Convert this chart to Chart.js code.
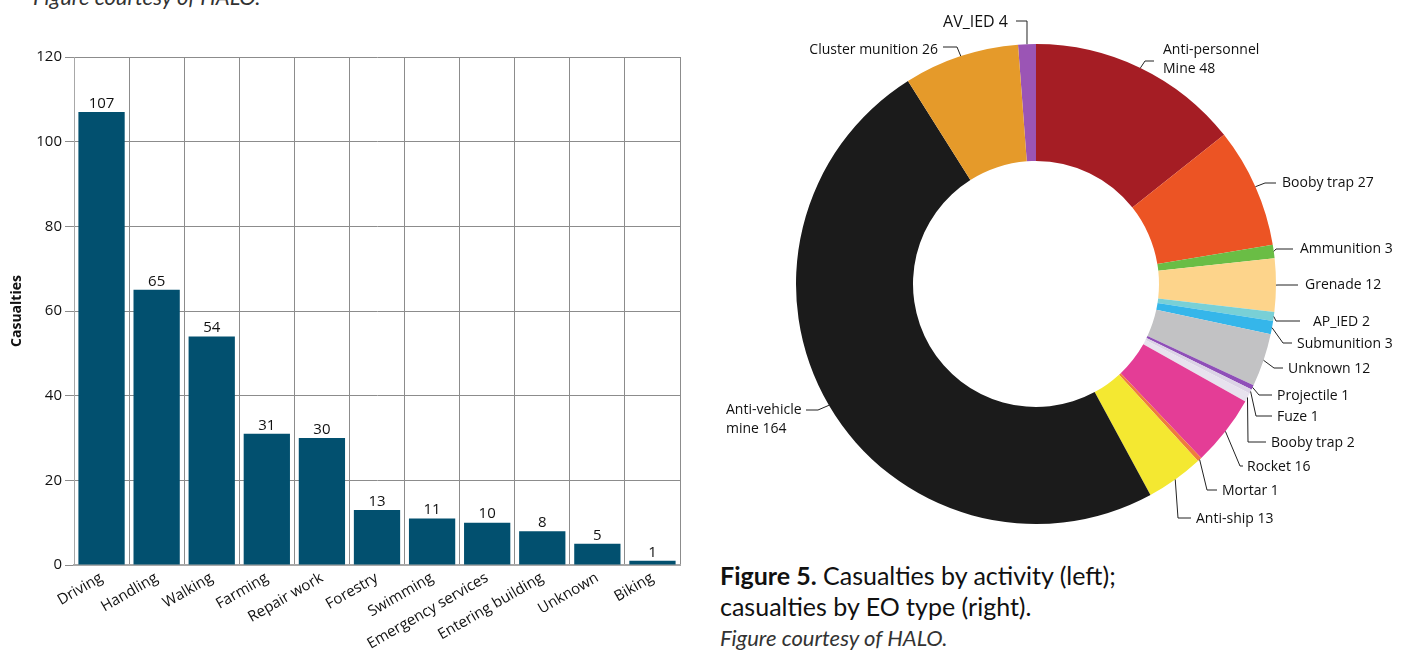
<!DOCTYPE html>
<html>
<head>
<meta charset="utf-8">
<script src="https://cdn.jsdelivr.net/npm/chart.js@4.4.1/dist/chart.umd.min.js"></script>
<style>
  body { margin: 0; background: #fff; width: 1405px; height: 652px; overflow: hidden; position: relative; font-family: Lato, "Open Sans", sans-serif; }
  #bar-wrap { position: absolute; left: 0; top: 0; width: 700px; height: 652px; }
  #pie-wrap { position: absolute; left: 700px; top: 0; width: 705px; height: 545px; }
  .credit { position: absolute; font-style: italic; font-size: 22px; color: #333; white-space: nowrap; }
  #caption { position: absolute; left: 720px; top: 560px; font-size: 25px; line-height: 31px; color: #111; white-space: nowrap; }
</style>
</head>
<body>
<div class="credit" style="left:33px; top:-17px;">Figure courtesy of HALO.</div>
<div id="bar-wrap"><canvas id="bar-chart" width="700" height="652"></canvas></div>
<div id="pie-wrap"><canvas id="pie-chart" width="705" height="545"></canvas></div>
<div id="caption"><b>Figure 5.</b> Casualties by activity (left);<br>casualties by EO type (right).</div>
<div class="credit" style="left:720px; top:624px;">Figure courtesy of HALO.</div>
<script>
// casualties by activity
const activities = ["Driving", "Handling", "Walking", "Farming", "Repair work", "Forestry",
  "Swimming", "Emergency services", "Entering building", "Unknown", "Biking"];
const activityCasualties = [107, 65, 54, 31, 30, 13, 11, 10, 8, 5, 1];
const yTicks = [0, 20, 40, 60, 80, 100, 120];

// casualties by EO type, clockwise from the top
const eoTypes = ["AV_IED", "Anti-personnel\nMine", "Booby trap", "Ammunition", "Grenade", "AP_IED",
  "Submunition", "Unknown", "Projectile", "Fuze", "Booby trap", "Rocket", "Mortar", "Anti-ship",
  "Anti-vehicle\nmine", "Cluster munition"];
const eoCasualties = [4, 48, 27, 3, 12, 2, 3, 12, 1, 1, 2, 16, 1, 13, 164, 26];
const eoColors = ["#9b55b5", "#a51d24", "#ec5424", "#6abd45", "#fdd48b", "#79d0d6",
  "#35b6ea", "#c2c2c4", "#8f4fb8", "#dcd3e6", "#e7e2ee", "#e43d96", "#ef7b3e", "#f4e831",
  "#1b1b1b", "#e59a2a"];

// where each label sits, relative to the doughnut centre
// t = text pos, l = line end next to text, e = elbow x
const labelSpots = [
  { tx: -28, ty: -262, align: "right", lx: -20, ly: -263, ex: -9, size: 16 },
  { tx: 127, ty: -234, lx: 118, ly: -223, ex: 109 },
  { tx: 246, ty: -101, lx: 240, ly: -101, ex: 229 },
  { tx: 264, ty: -35, lx: 257, ly: -35, ex: 240 },
  { tx: 269, ty: 1, lx: 262, ly: 1, ex: 242 },
  { tx: 277, ty: 38, lx: 264, ly: 37, ex: 240 },
  { tx: 261, ty: 60, lx: 256, ly: 59, ex: 247 },
  { tx: 252, ty: 85, lx: 247, ly: 84, ex: 238 },
  { tx: 241, ty: 112, lx: 236, ly: 111, ex: 223 },
  { tx: 241, ty: 133, lx: 236, ly: 132, ex: 220 },
  { tx: 235, ty: 159, lx: 230, ly: 158, ex: 212 },
  { tx: 211, ty: 183, lx: 207, ly: 182, ex: 204 },
  { tx: 186, ty: 207, lx: 181, ly: 206, ex: 171 },
  { tx: 160, ty: 235, lx: 155, ly: 234, ex: 142 },
  { tx: -310, ty: 126, lx: -230, ly: 126, ex: -218 },
  { tx: -98, ty: -234, align: "right", lx: -93, ly: -237, ex: -79 },
];

const narrowFont = '"Liberation Sans Narrow", "Open Sans", sans-serif';

// value above every bar
const barValues = {
  id: "barValues",
  afterDatasetsDraw(chart) {
    const ctx = chart.ctx;
    const meta = chart.getDatasetMeta(0);
    ctx.save();
    ctx.font = "15px " + narrowFont;
    ctx.fillStyle = "#111";
    ctx.textAlign = "center";
    ctx.textBaseline = "bottom";
    meta.data.forEach((bar, i) => {
      ctx.fillText(activityCasualties[i], bar.x, bar.y - 1);
    });
    ctx.restore();
  },
};

// labels with leader lines round the doughnut
const pieLabels = {
  id: "pieLabels",
  afterDatasetsDraw(chart) {
    const ctx = chart.ctx;
    const meta = chart.getDatasetMeta(0);
    ctx.save();
    ctx.strokeStyle = "#222";
    ctx.lineWidth = 1;
    ctx.fillStyle = "#111";
    ctx.textBaseline = "middle";
    meta.data.forEach((arc, i) => {
      const spot = labelSpots[i];
      const cx = arc.x, cy = arc.y;
      const mid = (arc.startAngle + arc.endAngle) / 2;
      const px = cx + Math.cos(mid) * arc.outerRadius;
      const py = cy + Math.sin(mid) * arc.outerRadius;
      ctx.beginPath();
      ctx.moveTo(px, py);
      ctx.lineTo(cx + spot.ex, cy + spot.ly);
      ctx.lineTo(cx + spot.lx, cy + spot.ly);
      ctx.stroke();
      ctx.font = (spot.size || 14) + "px " + narrowFont;
      ctx.textAlign = spot.align || "left";
      const lines = (eoTypes[i] + " " + eoCasualties[i]).split("\n");
      lines.forEach((line, j) => {
        ctx.fillText(line, cx + spot.tx, cy + spot.ty + j * 19);
      });
    });
    ctx.restore();
  },
};

new Chart(document.getElementById("bar-chart"), {
  type: "bar",
  data: {
    labels: activities,
    datasets: [
      {
        data: activityCasualties,
        backgroundColor: "#02506f",
        categoryPercentage: 1,
        barPercentage: 0.84,
      },
    ],
  },
  options: {
    responsive: false,
    animation: false,
    layout: { padding: { top: 57, right: 20, left: 0, bottom: 0 } },
    plugins: { legend: { display: false }, tooltip: { enabled: false } },
    scales: {
      x: {
        afterFit: (scale) => { scale.height = 87; },
        grid: { color: "#8c8c8c", drawTicks: false, offset: true },
        border: { color: "#a8a8a8", width: 2 },
        ticks: {
          color: "#111",
          font: { size: 15, family: narrowFont },
          maxRotation: 30,
          minRotation: 30,
          padding: 4,
        },
      },
      y: {
        min: 0,
        max: 120,
        afterFit: (scale) => { scale.width = 74; },
        afterBuildTicks: (scale) => { scale.ticks = yTicks.map((v) => ({ value: v })); },
        grid: { color: "#8c8c8c", tickLength: 9 },
        border: { color: "#a8a8a8" },
        ticks: { color: "#111", font: { size: 15, family: narrowFont }, padding: 3 },
        title: {
          display: true,
          text: "Casualties",
          color: "#111",
          font: { size: 14, weight: "bold", family: narrowFont },
          padding: { top: 9, bottom: 4 },
        },
      },
    },
  },
  plugins: [barValues],
});

new Chart(document.getElementById("pie-chart"), {
  type: "doughnut",
  data: {
    labels: eoTypes,
    datasets: [
      {
        data: eoCasualties,
        backgroundColor: eoColors,
        borderWidth: 0,
        hoverOffset: 0,
      },
    ],
  },
  options: {
    responsive: false,
    animation: false,
    rotation: -4.3,
    radius: 240,
    cutout: 123,
    layout: { padding: { left: 96, right: 129, top: 44, bottom: 21 } },
    plugins: { legend: { display: false }, tooltip: { enabled: false } },
  },
  plugins: [pieLabels],
});
</script>
</body>
</html>
